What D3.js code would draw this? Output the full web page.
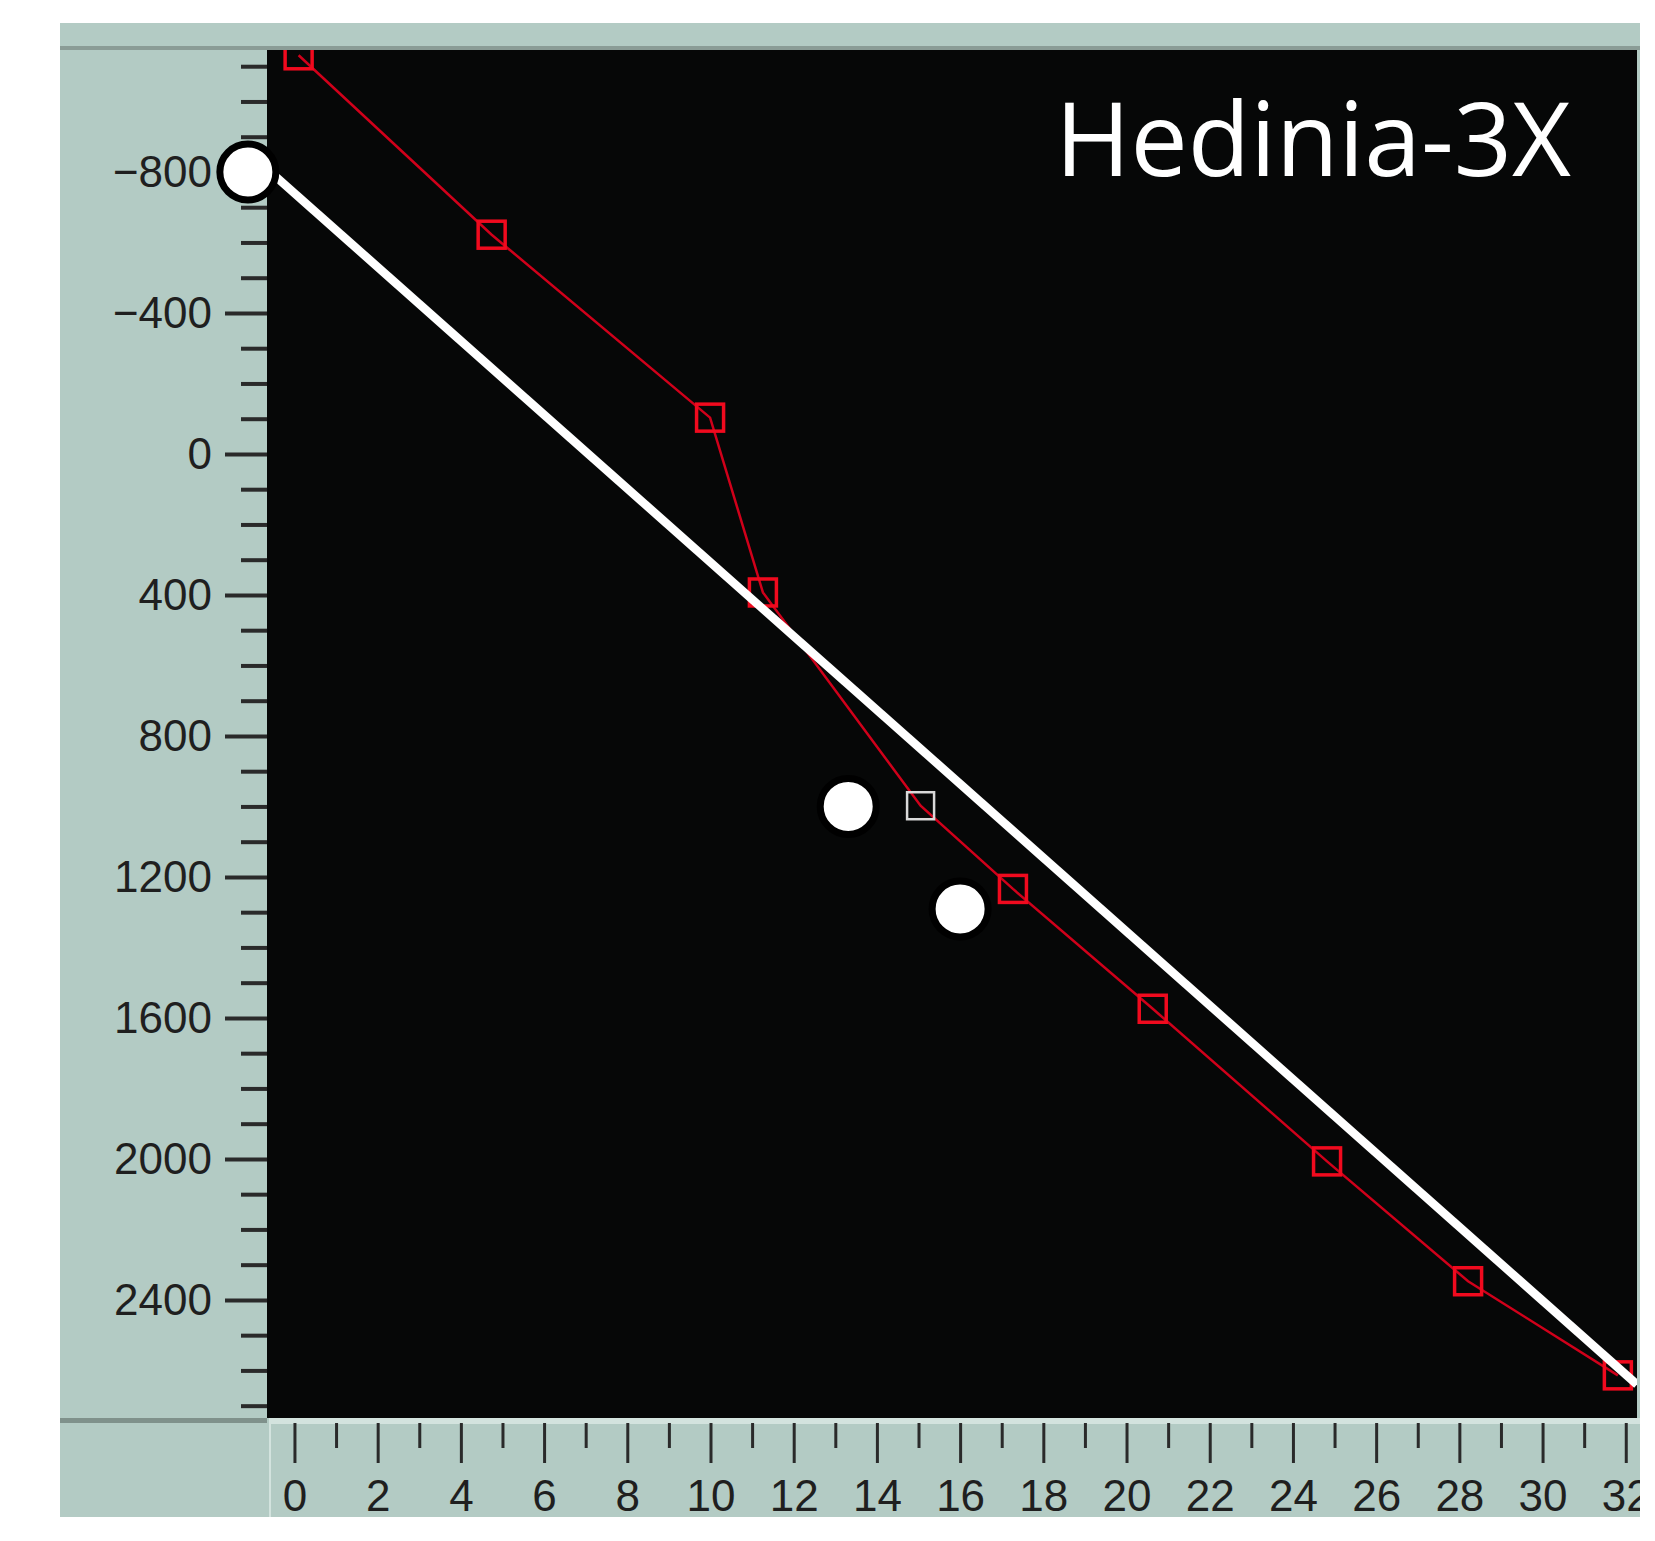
<!DOCTYPE html>
<html>
<head>
<meta charset="utf-8">
<script src="https://cdn.jsdelivr.net/npm/d3@7/dist/d3.min.js"></script>
<style>
  html, body { margin: 0; padding: 0; background: #ffffff; }
  svg { display: block; }
</style>
</head>
<body>
<div id="chart"></div>
<script>
// ---- data ----
const titleText = "Hedinia-3X";

// red measured series (squares joined by a thin red line)
const seriesX = [0.1, 4.74, 9.99, 11.26, 15.05, 17.27, 20.63, 24.82, 28.21, 31.81];
const seriesY = [-1131, -622, -103, 393, 998, 1234, 1574, 2007, 2347, 2614];
const seriesStatus = ["normal", "normal", "normal", "normal", "selected", "normal", "normal", "normal", "normal", "normal"];

// white reference points
const circleX = [-1.12, 13.31, 16.0];
const circleY = [-800, 1000, 1291];

// white straight trend line (two end values)
const trendX = [-1.12, 32.27];
const trendY = [-857, 2640];

// axes
const xDomain = [-0.66, 32.27];
const yDomain = [-1146, 2735];
const xMajorTicks = [0, 2, 4, 6, 8, 10, 12, 14, 16, 18, 20, 22, 24, 26, 28, 30, 32];
const xMinorTicks = [1, 3, 5, 7, 9, 11, 13, 15, 17, 19, 21, 23, 25, 27, 29, 31];
const yMajorTicks = [-800, -400, 0, 400, 800, 1200, 1600, 2000, 2400];
const yMinorTicks = [-1100, -1000, -900, -700, -600, -500, -300, -200, -100, 100, 200, 300, 500, 600, 700, 900, 1000, 1100, 1300, 1400, 1500, 1700, 1800, 1900, 2100, 2200, 2300, 2500, 2600, 2700];

// ---- layout ----
const W = 1655, H = 1541;
const panel = { x: 60, y: 23, w: 1580, h: 1494 };
const plot = { left: 267, top: 50, right: 1637, bottom: 1418 };

const svg = d3.select("#chart").append("svg")
  .attr("width", W).attr("height", H);

const defs = svg.append("defs");
defs.append("clipPath").attr("id", "panelClip")
  .append("rect").attr("x", panel.x).attr("y", panel.y).attr("width", panel.w).attr("height", panel.h);
defs.append("clipPath").attr("id", "plotClip")
  .append("rect").attr("x", plot.left).attr("y", plot.top)
  .attr("width", plot.right - plot.left).attr("height", plot.bottom - plot.top);
defs.append("clipPath").attr("id", "trendClip")
  .append("rect").attr("x", 0).attr("y", plot.top)
  .attr("width", plot.right).attr("height", plot.bottom - plot.top);

const root = svg.append("g").attr("clip-path", "url(#panelClip)");

// panel background
const panelColor = "#b3cbc4";
root.append("rect").attr("x", panel.x).attr("y", panel.y).attr("width", panel.w).attr("height", panel.h)
  .attr("fill", panelColor);
// top band dark rule
root.append("rect").attr("x", panel.x).attr("y", plot.top - 4).attr("width", panel.w).attr("height", 4)
  .attr("fill", "#8a9c96");
// bottom-left dark rule
root.append("rect").attr("x", panel.x).attr("y", plot.bottom).attr("width", plot.left - panel.x).attr("height", 5)
  .attr("fill", "#7f918b");
// x-axis strip highlight
root.append("rect").attr("x", plot.left + 3).attr("y", plot.bottom).attr("width", panel.x + panel.w - plot.left).attr("height", 6)
  .attr("fill", "#d3e3de");
root.append("rect").attr("x", plot.left + 2).attr("y", plot.bottom).attr("width", 2).attr("height", panel.y + panel.h - plot.bottom)
  .attr("fill", "#d3e3de");

// plot area
root.append("rect").attr("x", plot.left).attr("y", plot.top)
  .attr("width", plot.right - plot.left).attr("height", plot.bottom - plot.top)
  .attr("fill", "#060707");

// scales
const x = d3.scaleLinear().domain(xDomain).range([plot.left, plot.right]);
const y = d3.scaleLinear().domain(yDomain).range([plot.top, plot.bottom]);

// ---- axes ----
const axisColor = "#2a2a2a";
const labelFont = "'Liberation Sans', Arial, sans-serif";

const yMinor = root.append("g").attr("transform", `translate(${plot.left},0)`)
  .call(d3.axisLeft(y).tickValues(yMinorTicks).tickSize(26).tickFormat(""));
const yMajor = root.append("g").attr("transform", `translate(${plot.left},0)`)
  .call(d3.axisLeft(y).tickValues(yMajorTicks).tickSize(42).tickPadding(13).tickFormat(d3.format("d")));
[yMinor, yMajor].forEach(g => {
  g.select(".domain").remove();
  g.selectAll(".tick line").attr("stroke", axisColor).attr("stroke-width", 4);
});
yMajor.selectAll(".tick text")
  .attr("fill", "#1f1f1f").style("font-family", labelFont).style("font-size", "44px");

const xTop = plot.bottom + 5;
const xMinor = root.append("g").attr("transform", `translate(0,${xTop})`)
  .call(d3.axisBottom(x).tickValues(xMinorTicks).tickSize(25).tickFormat(""));
const xMajor = root.append("g").attr("transform", `translate(0,${xTop})`)
  .call(d3.axisBottom(x).tickValues(xMajorTicks).tickSize(40).tickPadding(17).tickFormat(d3.format("d")));
[xMinor, xMajor].forEach(g => {
  g.select(".domain").remove();
  g.selectAll(".tick line").attr("stroke", axisColor).attr("stroke-width", 3);
});
xMajor.selectAll(".tick text")
  .attr("fill", "#1f1f1f").style("font-family", labelFont).style("font-size", "44px");

// ---- red series ----
const pts = seriesX.map((d, i) => ({ x: d, y: seriesY[i], status: seriesStatus[i] }));
const redG = root.append("g").attr("clip-path", "url(#plotClip)");
redG.append("path").datum(pts)
  .attr("fill", "none").attr("stroke", "#d0001a").attr("stroke-width", 2.5)
  .attr("d", d3.line().x(d => x(d.x)).y(d => y(d.y)));
const sq = 27;
redG.selectAll("rect.pt").data(pts).join("rect").attr("class", "pt")
  .attr("x", d => x(d.x) - sq / 2).attr("y", d => y(d.y) - sq / 2)
  .attr("width", sq).attr("height", sq)
  .attr("fill", "none")
  .attr("stroke", d => d.status === "selected" ? "#d9d9d9" : "#f00a1e")
  .attr("stroke-width", d => d.status === "selected" ? 2.5 : 3.5);

// ---- white trend line ----
const trend = trendX.map((d, i) => ({ x: d, y: trendY[i] }));
root.append("g").attr("clip-path", "url(#trendClip)")
  .append("path").datum(trend)
  .attr("fill", "none").attr("stroke", "#ffffff").attr("stroke-width", 8.5)
  .attr("d", d3.line().x(d => x(d.x)).y(d => y(d.y)));

// ---- white circles ----
const circ = circleX.map((d, i) => ({ x: d, y: circleY[i] }));
root.selectAll("circle.ref").data(circ).join("circle").attr("class", "ref")
  .attr("cx", d => x(d.x)).attr("cy", d => y(d.y))
  .attr("r", 28)
  .attr("fill", "#ffffff").attr("stroke", "#000000").attr("stroke-width", 7);

// ---- title ----
root.append("text")
  .attr("x", 1571).attr("y", 176)
  .attr("text-anchor", "end")
  .attr("fill", "#ffffff")
  .style("font-family", "'Open Sans', 'Noto Sans', sans-serif")
  .style("font-size", "102px")
  .text(titleText);
</script>
</body>
</html>
